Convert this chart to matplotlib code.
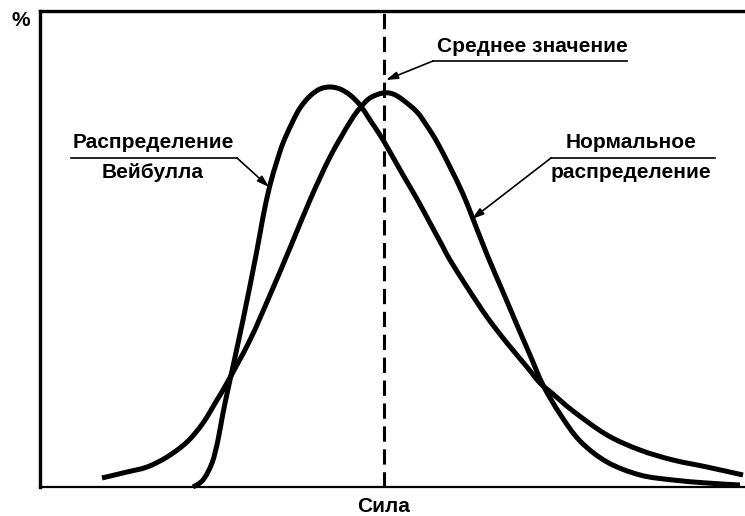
import matplotlib
matplotlib.use("Agg")
import matplotlib.pyplot as plt
from matplotlib.path import Path
from matplotlib.patches import PathPatch

plt.rcParams["font.family"] = ["Liberation Sans", "DejaVu Sans"]

# values (x: force, y: share in %), arbitrary units
weibull_x = [153, 163, 172, 178, 183, 190, 203, 217, 223, 230, 237, 243, 252, 260,
             270, 280, 290, 300, 310, 320, 330, 340, 350, 363, 377, 390, 403, 410,
             427, 447, 467, 487, 500, 513, 533, 567, 600, 633, 667, 703]
weibull_y = [0, 7, 24, 47, 74, 107, 167, 237, 270, 302, 326, 344, 364, 379,
             391, 398, 400, 398, 392, 382, 367, 352, 335, 312, 288, 264, 240, 227,
             200, 170, 144, 120, 104, 93, 76, 52, 37, 27, 20, 12]

normal_x = [62, 87, 107, 127, 147, 163, 177, 187, 210, 230, 250, 270, 290, 310,
            320, 330, 343, 353, 363, 377, 387, 397, 410, 423, 433, 448, 463, 477,
            490, 503, 520, 540, 567, 600, 633, 667, 700]
normal_y = [9, 15, 20, 30, 45, 64, 87, 104, 147, 192, 239, 287, 330, 365,
            379, 389, 394, 393, 387, 375, 361, 345, 320, 293, 268, 230, 195, 162,
            132, 102, 73, 46, 25, 12, 7, 4, 2]

mean_x = 344
x_label = "Сила"
y_label = "%"
mean_label = "Среднее значение"
weibull_label = ["Распределение", "Вейбулла"]
normal_label = ["Нормальное", "распределение"]


def smooth_path(xs, ys):
    # Catmull-Rom through the read points, drawn as cubic Bezier segments
    pts = list(zip(xs, ys))
    verts = [pts[0]]
    codes = [Path.MOVETO]
    for i in range(len(pts) - 1):
        p0 = pts[i - 1] if i > 0 else pts[i]
        p1, p2 = pts[i], pts[i + 1]
        p3 = pts[i + 2] if i + 2 < len(pts) else pts[i + 1]
        c1 = (p1[0] + (p2[0] - p0[0]) / 6, p1[1] + (p2[1] - p0[1]) / 6)
        c2 = (p2[0] - (p3[0] - p1[0]) / 6, p2[1] - (p3[1] - p1[1]) / 6)
        verts += [c1, c2, p2]
        codes += [Path.CURVE4] * 3
    return Path(verts, codes)


fig = plt.figure(figsize=(7.45, 5.16), dpi=100)
ax = fig.add_axes([40 / 745, 29 / 516, 705 / 745, 476 / 516])
ax.set_xlim(0, 705)
ax.set_ylim(0, 476)

for xs, ys in [(weibull_x, weibull_y), (normal_x, normal_y)]:
    ax.add_patch(PathPatch(smooth_path(xs, ys), facecolor="none", edgecolor="black",
                           lw=3.6, capstyle="butt", joinstyle="round", clip_on=False))
ax.axvline(mean_x, color="black", lw=2.2, dashes=(5, 2.5))

ax.spines["right"].set_visible(False)
ax.spines["top"].set_linewidth(2.4)
ax.spines["left"].set_linewidth(2.4)
ax.spines["bottom"].set_linewidth(1.6)
ax.set_xticks([])
ax.set_yticks([])

txt = dict(fontsize=15, fontweight="bold", color="black", ha="center", va="center")
arrow = dict(arrowstyle="-|>,head_length=0.7,head_width=0.22", color="black", lw=1.2,
             shrinkA=0, shrinkB=0)

# mean value callout
ax.plot([393, 587], [426, 426], color="black", lw=1.2, clip_on=False)
ax.annotate("", xy=(346, 407), xytext=(393, 426), arrowprops=arrow, annotation_clip=False)
ax.text(492, 441, mean_label, **txt)

# Weibull callout
ax.plot([31, 197], [329, 329], color="black", lw=1.2, clip_on=False)
ax.annotate("", xy=(229, 300), xytext=(197, 329), arrowprops=arrow, annotation_clip=False)
ax.text(113, 344, weibull_label[0], **txt)
ax.text(113, 314, weibull_label[1], **txt)

# normal callout
ax.plot([511, 675], [329, 329], color="black", lw=1.2, clip_on=False)
ax.annotate("", xy=(432, 268), xytext=(511, 329), arrowprops=arrow, annotation_clip=False)
ax.text(591, 344, normal_label[0], **txt)
ax.text(591, 314, normal_label[1], **txt)

fig.text(21 / 745, 1 - 20 / 516, y_label, **txt)
fig.text(384 / 745, 1 - 507 / 516, x_label, **txt)

fig.savefig("out.png", dpi=100)
